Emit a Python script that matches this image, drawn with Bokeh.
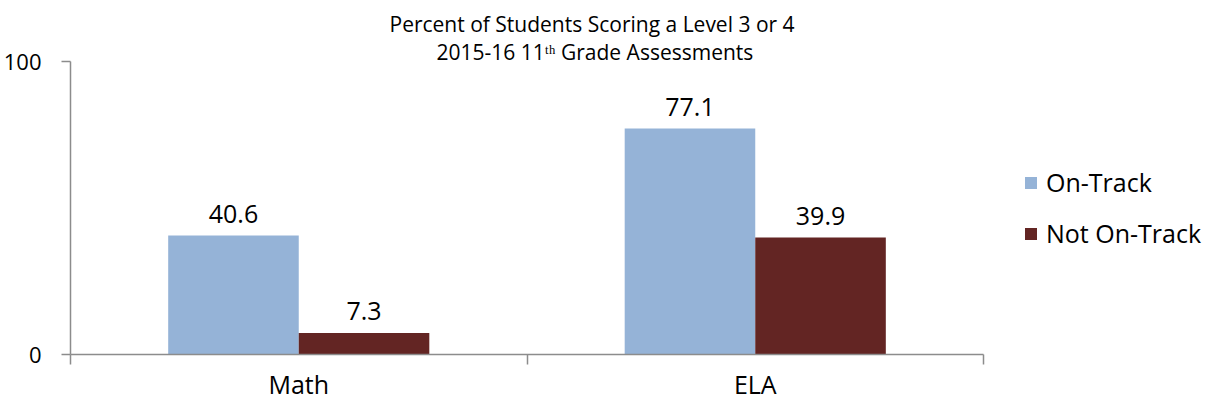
from bokeh.plotting import figure
from bokeh.models import Range1d, FixedTicker, LinearAxis, Legend, LegendItem, Title
from bokeh.embed import file_html
from bokeh.resources import INLINE
from bokeh.core.properties import value

categories = ["Math", "ELA"]
series = ["On-Track", "Not On-Track"]
on_track = [40.6, 77.1]
not_on_track = [7.3, 39.9]
y_ticks = [0, 100]
title_line1 = "Percent of Students Scoring a Level 3 or 4"
title_line2 = "2015-16 11\u1d57\u02b0 Grade Assessments"
colors = ["#95B3D7", "#632523"]

FONT = "Open Sans"
BAR_W = 0.286
AXIS_COLOR = "#8C8C8C"

p = figure(frame_width=913, frame_height=293, output_backend="svg", toolbar_location=None,
           x_range=Range1d(0, len(categories)), y_range=Range1d(y_ticks[0], y_ticks[-1]),
           min_border_left=69, min_border_right=217, min_border_top=61, min_border_bottom=38,
           x_axis_type=None, y_axis_type=None)
p.outline_line_color = None
p.grid.visible = False

centers = [i + 0.5 for i in range(len(categories))]
x_on = [c - BAR_W / 2 for c in centers]
x_not = [c + BAR_W / 2 for c in centers]

r1 = p.vbar(x=x_on, top=on_track, width=BAR_W, fill_color=colors[0], line_color=None)
r2 = p.vbar(x=x_not, top=not_on_track, width=BAR_W, fill_color=colors[1], line_color=None)

for xs, vals in ((x_on, on_track), (x_not, not_on_track)):
    p.text(x=xs, y=vals, text=[f"{v:.1f}" for v in vals], text_align="center",
           text_baseline="alphabetic", y_offset=-22, text_font=value(FONT),
           text_font_size="25px", text_color="black")

yaxis = LinearAxis(ticker=FixedTicker(ticks=y_ticks), major_tick_out=9, major_tick_in=0,
                   minor_tick_out=0, minor_tick_in=0, axis_line_color=AXIS_COLOR,
                   major_tick_line_color=AXIS_COLOR, axis_line_width=1.5, major_tick_line_width=1.5,
                   major_label_text_font=FONT, major_label_text_font_size="22px",
                   major_label_standoff=20, major_label_text_color="black")
p.add_layout(yaxis, "left")

xaxis = LinearAxis(ticker=FixedTicker(ticks=centers, minor_ticks=[float(i) for i in range(len(categories) + 1)]),
                   major_tick_out=0, major_tick_in=0, minor_tick_out=10, minor_tick_in=0,
                   axis_line_color=AXIS_COLOR, minor_tick_line_color=AXIS_COLOR,
                   axis_line_width=1.5, minor_tick_line_width=1.5,
                   major_label_overrides={c: cat for c, cat in zip(centers, categories)},
                   major_label_text_font=FONT, major_label_text_font_size="25px",
                   major_label_standoff=2, major_label_text_color="black")
p.add_layout(xaxis, "below")

legend = Legend(items=[LegendItem(label=series[0], renderers=[r1]),
                       LegendItem(label=series[1], renderers=[r2])],
                location=(40, 104), orientation="vertical", margin=0, padding=0, spacing=17,
                glyph_width=15, glyph_height=15, label_standoff=8,
                label_text_font=FONT, label_text_font_size="25px", label_text_color="black",
                border_line_alpha=0, background_fill_alpha=0)
p.add_layout(legend, "right")

t2 = Title(text=title_line2, align="left", offset=366, standoff=-8, text_font=FONT,
           text_font_size="21px", text_font_style="normal", text_color="black")
p.add_layout(t2, "above")
t1 = Title(text=title_line1, align="left", offset=319, standoff=4, text_font=FONT,
           text_font_size="21px", text_font_style="normal", text_color="black")
p.add_layout(t1, "above")

open("out.html", "w").write(file_html(p, INLINE))
